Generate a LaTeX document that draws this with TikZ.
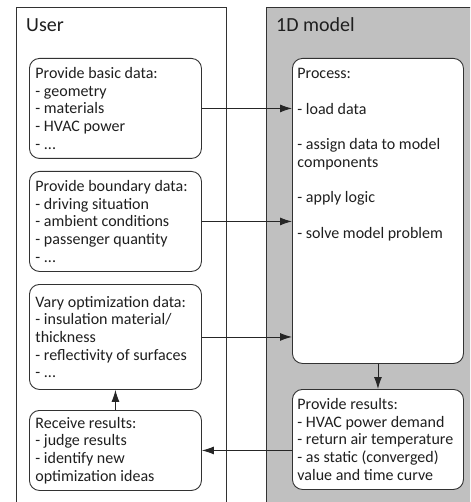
\documentclass[tikz,border=0pt]{standalone}
\usepackage{fontspec}
\setmainfont{Carlito}
\usetikzlibrary{arrows.meta,calc}
\definecolor{framegray}{RGB}{192,192,192}
\definecolor{linegray}{RGB}{50,50,50}
\begin{document}
\begin{tikzpicture}[x=1pt,y=-1pt,
  stepbox/.style={draw=linegray,line width=0.9pt,fill=white,rounded corners=10pt,
    anchor=north west,align=left,inner sep=0pt,
    font=\fontsize{16}{17.7}\selectfont,text=black!88},
  conn/.style={draw=black!85,line width=0.9pt,-{Latex[length=12pt,width=8pt]}},
  lbl/.style={anchor=west,font=\fontsize{20}{22}\selectfont,text=black!88,inner sep=0pt}]
\useasboundingbox (0,0) rectangle (470,502);
\begin{scope}
\clip (0,0) rectangle (470,502);
\draw[linegray,line width=0.9pt,fill=white] (16,7) rectangle (226,520);
\draw[linegray,line width=0.9pt,fill=framegray] (266,7) rectangle (490,520);
\end{scope}
\node[lbl] (user) at (26,25) {User};
\node[lbl] (model) at (276,25) {1D model};
% user boxes
\node[stepbox,minimum width=172pt,minimum height=100pt] (b1) at (29,58)
  {\parbox[c]{160pt}{Provide basic data:\\- geometry\\- materials\\- HVAC power\\- ...}};
\node[stepbox,minimum width=172pt,minimum height=100pt] (b2) at (29,171)
  {\parbox[c]{160pt}{Provide boundary data:\\- driving situation\\- ambient conditions\\- passenger quantity\\- ...}};
\node[stepbox,minimum width=172pt,minimum height=105pt] (b3) at (29,284)
  {\parbox[c]{160pt}{Vary optimization data:\\- insulation material/\\thickness\\- reflectivity of surfaces\\- ...}};
\node[stepbox,minimum width=172pt,minimum height=80pt] (b4) at (29,410)
  {\parbox[c]{160pt}{Receive results:\\- judge results\\- identify new\\optimization ideas}};
% model boxes
\node[stepbox,minimum width=171pt,minimum height=305pt] (proc) at (292,58)
  {\parbox[c][305pt][t]{161pt}{\vspace*{10pt}Process:\\[17.7pt]- load data\\[17.7pt]- assign data to model\\components\\[17.7pt]- apply logic\\[17.7pt]- solve model problem}};
\node[stepbox,minimum width=171pt,minimum height=100pt] (res) at (292,389)
  {\parbox[c]{161pt}{Provide results:\\- HVAC power demand\\- return air temperature\\- as static (converged)\\value and time curve}};
% connectors
\draw[conn] (b1.east) -- (b1.east -| proc.west);
\draw[conn] (b2.east) -- (b2.east -| proc.west);
\draw[conn] (b3.east) -- (b3.east -| proc.west);
\draw[conn] (proc.south) -- (res.north);
\draw[conn] (res.west |- b4.east) -- (b4.east);
\draw[conn] (b4.north) -- (b3.south);
\end{tikzpicture}
\end{document}
